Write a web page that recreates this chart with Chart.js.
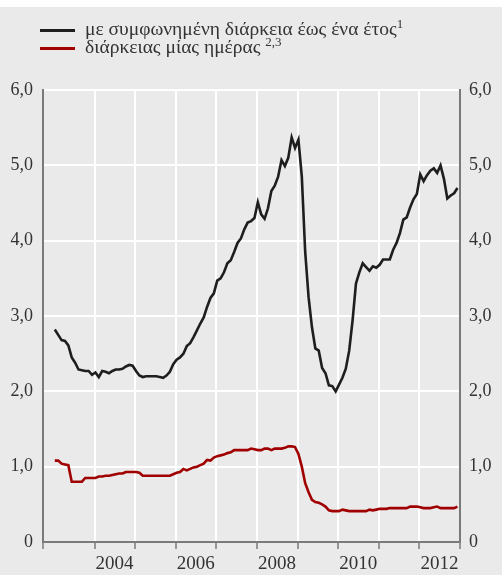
<!DOCTYPE html>
<html>
<head>
<meta charset="utf-8">
<script src="https://cdn.jsdelivr.net/npm/chart.js@4/dist/chart.umd.min.js"></script>
<style>
  html, body { margin: 0; padding: 0; background: #fff; }
  #wrap { position: absolute; left: 0; top: 0; width: 502px; height: 575px; overflow: hidden; }
  #chart { position: absolute; left: 0; top: 0; }
  .legend { position: absolute; left: 40px; font-family: "Liberation Serif", serif; font-size: 19.5px; color: #333; }
  .legend .row { position: absolute; left: 0; white-space: nowrap; }
  .legend .swatch { position: absolute; left: 0; width: 35px; height: 3px; }
  .legend .txt { position: absolute; left: 45px; top: -13px; }
  .legend sup { font-size: 13px; vertical-align: 7px; }
</style>
</head>
<body>
<div id="wrap">
  <canvas id="chart" width="502" height="575"></canvas>
  <div class="legend">
    <div class="row" style="top:29px"><div class="swatch" style="background:#1e1e1e"></div><div class="txt">με συμφωνημένη διάρκεια έως ένα έτος<sup>1</sup></div></div>
    <div class="row" style="top:47px"><div class="swatch" style="background:#a00000"></div><div class="txt">διάρκειας μίας ημέρας <sup>2,3</sup></div></div>
  </div>
</div>
<script>
// μηνιαίες τιμές, Ιαν. 2003 - Δεκ. 2012
const startYear = 2003;
const yearLabels = [2004, 2006, 2008, 2010, 2012];
const yTicks = [0, 1, 2, 3, 4, 5, 6];

// με συμφωνημένη διάρκεια έως ένα έτος
const agreedMaturity = [
  2.82, 2.75, 2.68, 2.67, 2.61, 2.45, 2.38, 2.29, 2.28, 2.27, 2.27, 2.22,
  2.25, 2.19, 2.27, 2.26, 2.24, 2.27, 2.29, 2.29, 2.30, 2.33, 2.35, 2.34,
  2.27, 2.21, 2.19, 2.20, 2.20, 2.20, 2.20, 2.19, 2.18, 2.21, 2.26, 2.36,
  2.42, 2.45, 2.50, 2.60, 2.64, 2.72, 2.81, 2.90, 2.98, 3.12, 3.24, 3.30,
  3.47, 3.50, 3.58, 3.70, 3.74, 3.85, 3.97, 4.03, 4.15, 4.24, 4.26, 4.30,
  4.51, 4.35, 4.29, 4.43, 4.66, 4.73, 4.85, 5.07, 4.99, 5.10, 5.37, 5.23,
  5.34, 4.85, 3.85, 3.25, 2.85, 2.57, 2.54, 2.31, 2.24, 2.08, 2.07, 2.00,
  2.09, 2.18, 2.30, 2.54, 2.94, 3.43, 3.58, 3.70, 3.65, 3.60, 3.66, 3.64,
  3.68, 3.75, 3.75, 3.75, 3.88, 3.97, 4.10, 4.28, 4.31, 4.44, 4.55, 4.62,
  4.88, 4.79, 4.87, 4.93, 4.96, 4.90, 5.00, 4.82, 4.56, 4.60, 4.63, 4.70
];

// διάρκειας μίας ημέρας
const overnight = [
  1.08, 1.08, 1.04, 1.03, 1.02, 0.80, 0.80, 0.80, 0.80, 0.85, 0.85, 0.85,
  0.85, 0.87, 0.87, 0.88, 0.88, 0.89, 0.90, 0.91, 0.91, 0.93, 0.93, 0.93,
  0.93, 0.92, 0.88, 0.88, 0.88, 0.88, 0.88, 0.88, 0.88, 0.88, 0.88, 0.90,
  0.92, 0.93, 0.97, 0.95, 0.97, 0.99, 1.00, 1.02, 1.04, 1.09, 1.08, 1.12,
  1.14, 1.15, 1.16, 1.18, 1.19, 1.22, 1.22, 1.22, 1.22, 1.22, 1.24, 1.23,
  1.22, 1.22, 1.24, 1.24, 1.22, 1.24, 1.24, 1.24, 1.25, 1.27, 1.27, 1.26,
  1.17, 1.00, 0.78, 0.66, 0.56, 0.53, 0.52, 0.50, 0.47, 0.42, 0.41, 0.41,
  0.41, 0.43, 0.42, 0.41, 0.41, 0.41, 0.41, 0.41, 0.41, 0.43, 0.42, 0.43,
  0.44, 0.44, 0.44, 0.45, 0.45, 0.45, 0.45, 0.45, 0.45, 0.47, 0.47, 0.47,
  0.46, 0.45, 0.45, 0.45, 0.46, 0.47, 0.45, 0.45, 0.45, 0.45, 0.45, 0.47
];

const toPoints = arr => arr.map((v, m) => ({x: startYear + (m + 0.25) / 12, y: v}));
const fmt = v => v === 0 ? '0' : v.toFixed(1).replace('.', ',');

const axisGrey = '#7a7a7a';
const gridWhite = '#ffffff';

// γκρι φόντο πάνελ, κάτω από τη λευκή λωρίδα στην κορυφή
const panelBg = {
  id: 'panelBg',
  beforeDraw(chart) {
    const c = chart.ctx;
    c.save();
    c.fillStyle = '#ffffff';
    c.fillRect(0, 0, chart.width, 7);
    c.fillStyle = '#eaeaea';
    c.fillRect(0, 7, chart.width, chart.height - 7);
    c.restore();
  }
};

const ctx = document.getElementById('chart').getContext('2d');
new Chart(ctx, {
  type: 'line',
  data: {
    datasets: [
      {label: 'με συμφωνημένη διάρκεια έως ένα έτος', data: toPoints(agreedMaturity),
       borderColor: '#1e1e1e', borderWidth: 2.6, pointRadius: 0, tension: 0},
      {label: 'διάρκειας μίας ημέρας', data: toPoints(overnight),
       borderColor: '#a00000', borderWidth: 2.6, pointRadius: 0, tension: 0}
    ]
  },
  plugins: [panelBg],
  options: {
    responsive: false,
    animation: false,
    layout: {padding: {top: 90, left: 0, right: 0, bottom: 0}},
    plugins: {legend: {display: false}, tooltip: {enabled: false}},
    scales: {
      x: {
        type: 'linear', min: 2002.73, max: 2013,
        afterFit: s => { s.height = 33; },
        ticks: {
          stepSize: 1, autoSkip: false, maxRotation: 0, labelOffset: 20,
          color: '#333', font: {family: '"Liberation Serif", serif', size: 19}, padding: 4,
          callback: v => yearLabels.includes(v) ? String(v) : ''
        },
        grid: {
          display: true, drawOnChartArea: true,
          color: c => (c.tick && Number.isInteger(c.tick.value) && c.tick.value < 2013) ? gridWhite : 'rgba(255,255,255,0)',
          lineWidth: 2, tickColor: axisGrey, tickLength: 7, tickWidth: 1.5
        },
        border: {color: axisGrey, width: 2}
      },
      y: {
        min: 0, max: 6, position: 'left',
        afterFit: s => { s.width = 43; },
        ticks: {stepSize: 1, color: '#333', font: {family: '"Liberation Serif", serif', size: 18}, padding: 10,
          callback: fmt},
        grid: {display: true, drawOnChartArea: true, color: gridWhite, lineWidth: 2, drawTicks: false},
        border: {color: axisGrey, width: 2}
      },
      y2: {
        min: 0, max: 6, position: 'right',
        afterFit: s => { s.width = 42; },
        ticks: {stepSize: 1, color: '#333', font: {family: '"Liberation Serif", serif', size: 18}, padding: 9,
          callback: fmt},
        grid: {drawOnChartArea: false, drawTicks: false},
        border: {color: axisGrey, width: 2}
      }
    }
  }
});
</script>
</body>
</html>
